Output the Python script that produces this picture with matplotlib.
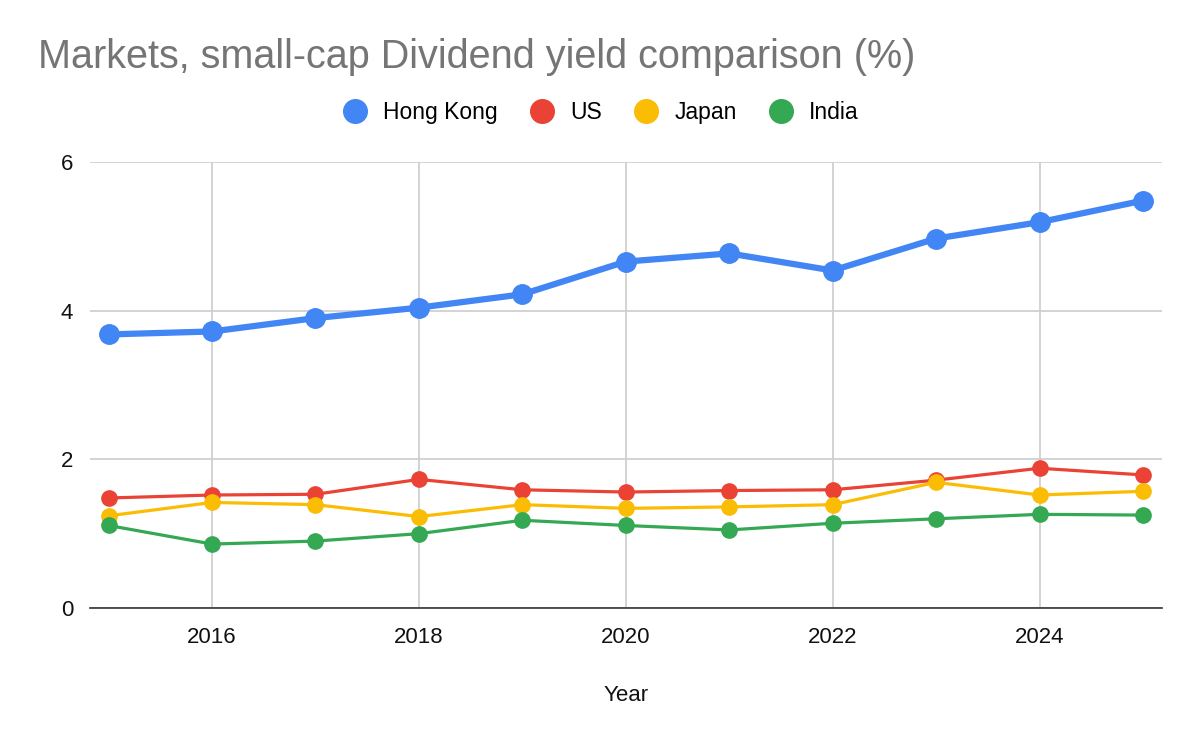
import matplotlib.pyplot as plt
from matplotlib.lines import Line2D

plt.rcParams['font.family'] = ['Liberation Sans', 'DejaVu Sans']

years = [2015, 2016, 2017, 2018, 2019, 2020, 2021, 2022, 2023, 2024, 2025]
hong_kong = [3.68, 3.72, 3.90, 4.04, 4.22, 4.66, 4.77, 4.54, 4.97, 5.19, 5.48]
us = [1.48, 1.52, 1.53, 1.73, 1.59, 1.56, 1.58, 1.59, 1.72, 1.88, 1.79]
japan = [1.24, 1.42, 1.39, 1.23, 1.39, 1.34, 1.36, 1.39, 1.69, 1.52, 1.57]
india = [1.11, 0.86, 0.90, 1.00, 1.18, 1.11, 1.05, 1.14, 1.20, 1.26, 1.25]

names = ['Hong Kong', 'US', 'Japan', 'India']
colors = ['#4285F4', '#EA4335', '#FBBC04', '#34A853']

fig = plt.figure(figsize=(12, 7.42), dpi=100)
ax = fig.add_axes([0.075, 0.1806, 0.893, 0.6011])

ax.plot(years, hong_kong, color=colors[0], lw=4.5, marker='o', ms=14, zorder=3)
for vals, c in zip([us, japan, india], colors[1:]):
    ax.plot(years, vals, color=c, lw=2.3, marker='o', ms=11, zorder=3)

ax.set_xlim(2014.82, 2025.18)
ax.set_ylim(0, 6)
ax.set_xticks([2016, 2018, 2020, 2022, 2024])
ax.set_yticks([0, 2, 4, 6])
ax.grid(True, color='#cccccc', lw=1.2)
ax.set_axisbelow(True)
for s in ['top', 'right', 'left']:
    ax.spines[s].set_visible(False)
ax.spines['bottom'].set_color('#333333')
ax.spines['bottom'].set_linewidth(1.2)
ax.tick_params(length=0, labelsize=16, colors='#111111', pad=14)
ax.tick_params(axis='y', pad=12)
ax.set_xlabel('Year', fontsize=16, color='#111111', labelpad=26)

fig.text(0.032, 0.923, 'Markets, small-cap Dividend yield comparison (%)',
         fontsize=28.5, color='#757575', va='center')

handles = [Line2D([], [], ls='none', marker='o', ms=17, color=c) for c in colors]
fig.legend(handles, names, loc='center', bbox_to_anchor=(0.5, 0.849), ncol=4,
           frameon=False, fontsize=16.5, handletextpad=0.62, columnspacing=1.34,
           handlelength=1.2)

fig.savefig('out.png')
